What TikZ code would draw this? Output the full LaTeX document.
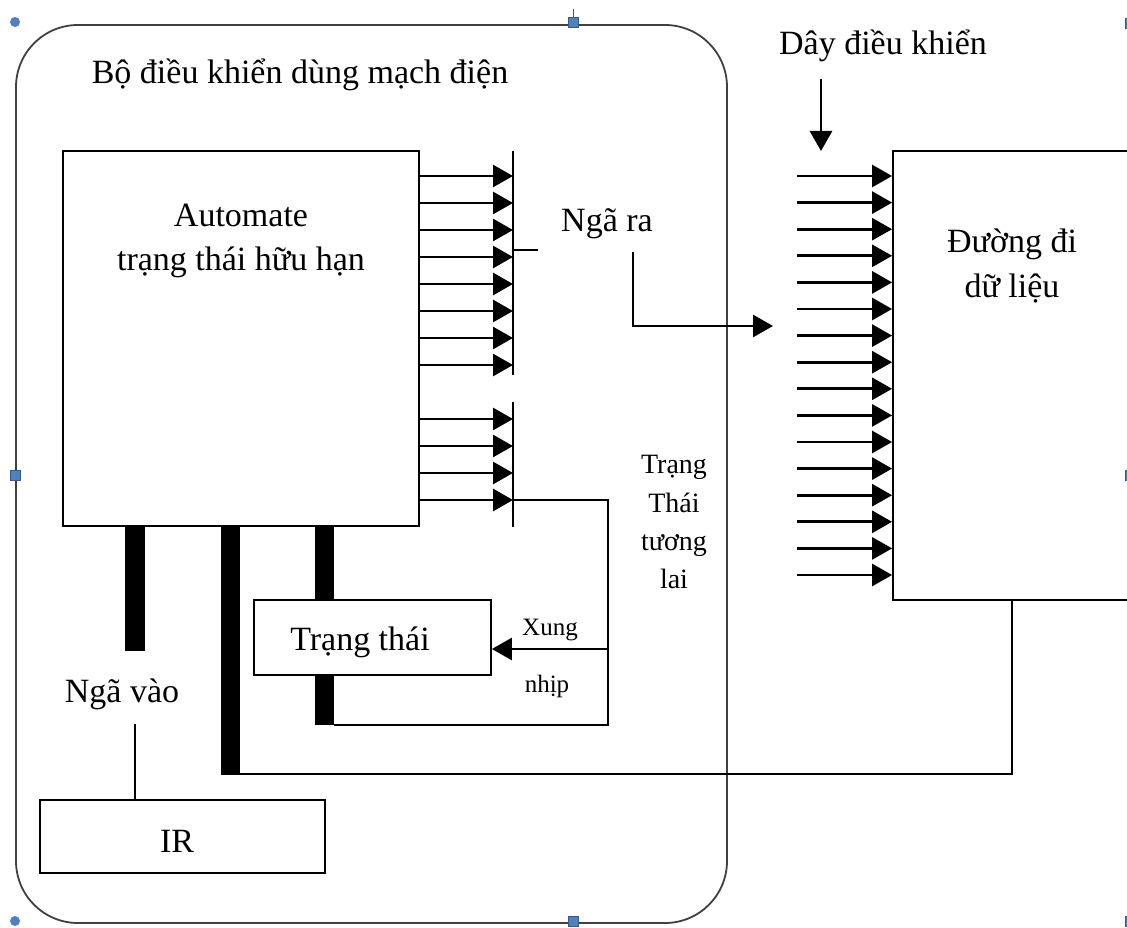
\documentclass[tikz,border=0pt]{standalone}
\usepackage{fontspec}
\setmainfont{Liberation Serif}
\usetikzlibrary{arrows.meta}
\definecolor{handle}{RGB}{79,129,189}
\begin{document}
\begin{tikzpicture}[x=1pt,y=-1pt,
  box/.style={draw,line width=1.8pt,inner sep=0pt},
  lbl/.style={inner sep=0pt,anchor=base,font=\fontsize{34}{40}\selectfont},
  smalllbl/.style={inner sep=0pt,anchor=base,font=\fontsize{25}{30}\selectfont},
  midlbl/.style={inner sep=0pt,anchor=base,font=\fontsize{28}{32}\selectfont},
  arr/.style={line width=2.8pt,-{Triangle[length=20pt,width=22pt]}},
  bus/.style={line width=19.5pt},
  wire/.style={line width=1.8pt},
  outline/.style={draw=black!75,line width=1.8pt,rounded corners=62pt}]
\useasboundingbox (0,0) rectangle (1127,928);
\fill[white] (0,0) rectangle (1127,928);
\clip (0,0) rectangle (1127,928);

% outer rounded frame
\draw[outline] (16,25) rectangle (727,923);
\node[lbl] (title) at (300,84) {Bộ điều khiển dùng mạch điện};

% FSM box
\node[box,minimum width=356pt,minimum height=375pt] (fsm) at (241,338.5) {};
\node[lbl] (fsm1) at (241,227) {Automate};
\node[lbl] (fsm2) at (241,270) {trạng thái hữu hạn};

% output bars
\coordinate (b1t) at (513,151);
\coordinate (b1b) at (513,375);
\coordinate (b2t) at (513,402);
\coordinate (b2b) at (513,527);
\draw[wire] (b1t) -- (b1b);
\draw[wire] (b2t) -- (b2b);
\foreach \y in {176,203,...,365} \draw[arr] (fsm.east |- 0,\y) -- (b1t |- 0,\y);
\foreach \y in {419,446,473,500} \draw[arr] (fsm.east |- 0,\y) -- (b2t |- 0,\y);
\coordinate (tick) at (538,250);
\draw[wire] (b1t |- tick) -- (tick);

% Nga ra
\node[lbl] (ngara) at (607,232) {Ngã ra};
\coordinate (nr1) at (633,252);
\coordinate (nr2) at (633,326);
\coordinate (nr3) at (773,326);
\draw[arr] (nr1) -- (nr2) -- (nr3);

% state register
\node[box,minimum width=237pt,minimum height=75pt] (st) at (372.5,637.5) {};
\node[lbl] (sttxt) at (360,650) {Trạng thái};

% loop back / clock
\coordinate (lp1) at (608,500);
\coordinate (lp2) at (608,725);
\coordinate (lp3) at (334,725);
\draw[wire] (b2t |- lp1) -- (lp1) -- (lp2) -- (lp3);
\coordinate (clk) at (608,649);
\draw[arr] (clk) -- (st.east |- clk);
\node[smalllbl] (xung) at (550,635) {Xung};
\node[smalllbl] (nhip) at (547,692) {nhịp};

% next state label
\node[midlbl] (ns1) at (674,473) {Trạng};
\node[midlbl] (ns2) at (674,512) {Thái};
\node[midlbl] (ns3) at (674,550) {tương};
\node[midlbl] (ns4) at (674,588) {lai};

% buses
\draw[bus] (fsm.south -| 135,0) -- (135,651);
\draw[bus] (fsm.south -| 230.5,0) -- (230.5,775);
\draw[bus] (fsm.south -| 324.5,0) -- (st.north -| 324.5,0);
\draw[bus] (st.south -| 324.5,0) -- (324.5,725);

% datapath
\node[box,minimum width=257pt,minimum height=449pt] (dl) at (1021.5,375.5) {};
\node[lbl] (dl1) at (1012,252) {Đường đi};
\node[lbl] (dl2) at (1012,297) {dữ liệu};
\foreach \i [evaluate=\i as \y using 176+26.6*\i] in {0,...,15}
  \draw[arr] (797,\y) -- (dl.west |- 0,\y);

% control wires label
\node[lbl] (day) at (883,55) {Dây điều khiển};
\coordinate (d1) at (821,79);
\coordinate (d2) at (821,151);
\draw[arr] (d1) -- (d2);

% status line back
\coordinate (s1) at (240,774);
\coordinate (s2) at (1012,774);
\draw[wire] (s1) -- (s2) -- (dl.south -| s2);

% input
\node[lbl] (ngavao) at (122,702) {Ngã vào};
\node[box,minimum width=285pt,minimum height=73pt] (ir) at (182.5,836.5) {};
\node[lbl] (irtxt) at (177,852) {IR};
\coordinate (iv) at (135,724);
\draw[wire] (iv) -- (ir.north -| iv);

% selection handles
\fill[handle] (15,22) circle (5pt);
\fill[handle] (15,921) circle (5pt);
\draw[handle!70!black,line width=1pt] (573,17) -- (573,9);
\filldraw[fill=handle,draw=handle!70!black] (568,17) rectangle (578,27);
\filldraw[fill=handle,draw=handle!70!black] (10,470) rectangle (20,480);
\filldraw[fill=handle,draw=handle!70!black] (568,916) rectangle (578,926);
\filldraw[fill=handle,draw=handle!70!black] (1125,18) rectangle (1135,28);
\filldraw[fill=handle,draw=handle!70!black] (1125,470) rectangle (1135,480);
\filldraw[fill=handle,draw=handle!70!black] (1125,916) rectangle (1135,926);
\end{tikzpicture}
\end{document}
